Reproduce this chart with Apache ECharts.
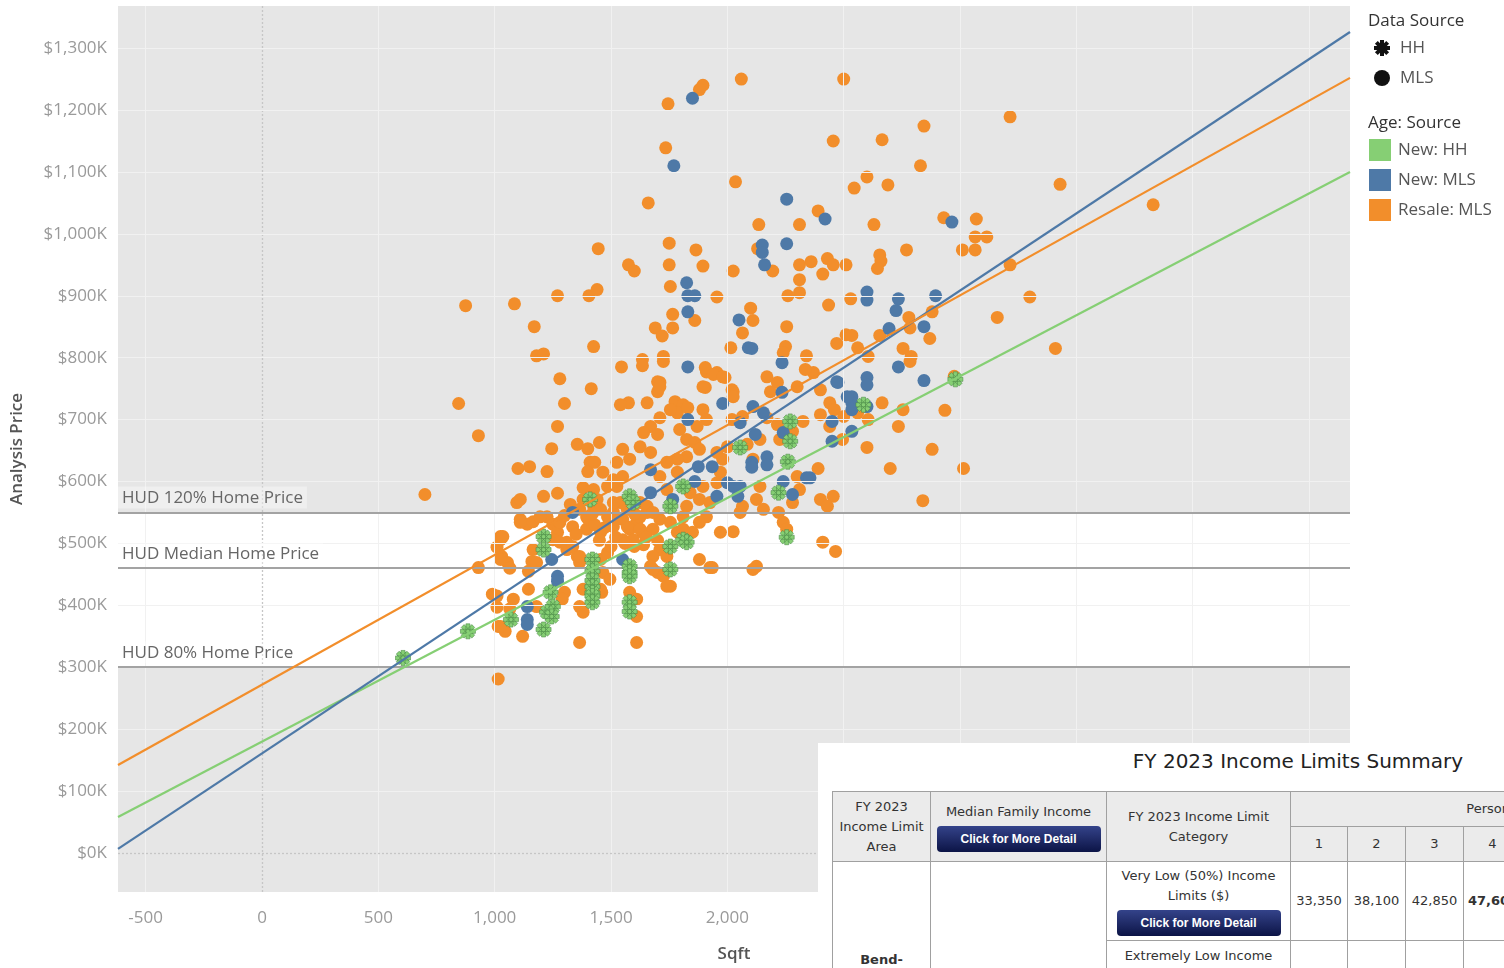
<!DOCTYPE html>
<html>
<head>
<meta charset="utf-8">
<script src="https://cdn.jsdelivr.net/npm/echarts@6/dist/echarts.min.js"></script>
<style>
html,body{margin:0;padding:0;width:1504px;height:968px;overflow:hidden;background:#fff;}
#chart{position:absolute;left:0;top:0;width:1504px;height:968px;}
#overlay{position:absolute;left:818px;top:743px;width:686px;height:225px;background:#fff;overflow:hidden;font-family:"DejaVu Sans",Verdana,sans-serif;color:#333;}
#title{position:absolute;left:0;top:5px;width:960px;text-align:center;font-size:20px;line-height:26px;color:#222;}
#tbl{position:absolute;left:14px;top:48px;border-collapse:collapse;table-layout:fixed;width:922px;font-size:13px;line-height:20px;}
#tbl th,#tbl td{border:1px solid #a0a0a0;text-align:center;vertical-align:middle;padding:0 4px;font-weight:normal;overflow:hidden;}
#tbl th{background:#ebebeb;}
#tbl tr.r1 th{height:34px;}
#tbl tr.b1 td{height:78px;}
#tbl tr.b2 td{height:78px;vertical-align:top;padding-top:5px;}
.btn{display:block;margin:4px auto 0;width:164px;height:26px;border-radius:4px;background:linear-gradient(#34438a,#0c1446);color:#fff;font:bold 12px "Liberation Sans",Arial,sans-serif;line-height:26px;}
#tbl td.area{vertical-align:top;padding-top:88px;}
</style>
</head>
<body>
<div id="chart"></div>
<div id="overlay">
  <div id="title">FY 2023 Income Limits Summary</div>
  <table id="tbl">
    <colgroup>
      <col style="width:98px"><col style="width:176px"><col style="width:184px">
      <col style="width:57px"><col style="width:58px"><col style="width:58px"><col style="width:58px">
      <col style="width:58px"><col style="width:58px"><col style="width:58px"><col style="width:59px">
    </colgroup>
    <tr class="r1">
      <th rowspan="2">FY 2023<br>Income Limit<br>Area</th>
      <th rowspan="2">Median Family Income<span class="btn">Click for More Detail</span></th>
      <th rowspan="2">FY 2023 Income Limit<br>Category</th>
      <th colspan="8">Persons in Family</th>
    </tr>
    <tr class="r1"><th>1</th><th>2</th><th>3</th><th>4</th><th>5</th><th>6</th><th>7</th><th>8</th></tr>
    <tr class="b1">
      <td rowspan="3" class="area"><b>Bend-<br>Redmond, OR<br>MSA</b></td>
      <td rowspan="3"></td>
      <td>Very Low (50%) Income<br>Limits ($)<span class="btn">Click for More Detail</span></td>
      <td>33,350</td><td>38,100</td><td>42,850</td><td><b>47,600</b></td><td></td><td></td><td></td><td></td>
    </tr>
    <tr class="b2">
      <td>Extremely Low Income<br>Limits ($)*</td>
      <td></td><td></td><td></td><td></td><td></td><td></td><td></td><td></td>
    </tr>
    <tr class="b2">
      <td>Low (80%) Income<br>Limits ($)</td>
      <td></td><td></td><td></td><td></td><td></td><td></td><td></td><td></td>
    </tr>
  </table>
</div>
<script>
// ---------- data (Sqft, Analysis Price in $K) ----------
const xTicks = [-500, 0, 500, 1000, 1500, 2000, 2500, 3000, 3500, 4000, 4500];
const yTicks = [0, 100, 200, 300, 400, 500, 600, 700, 800, 900, 1000, 1100, 1200, 1300];
const hudNames = ['HUD 120% Home Price', 'HUD Median Home Price', 'HUD 80% Home Price'];
const hudValues = [550, 460, 300];
const trendNames = ['New: HH', 'New: MLS', 'Resale: MLS'];
const trendSlopes = [0.1968, 0.2492, 0.2096];
const trendIntercepts = [179.8, 160.8, 271.8];

const resaleMLS = [
[1745,1210],[1895,1240],[1880,1233],[2060,1250],[1735,1139],[2035,1084],[1660,1050],[1750,985],[1865,974],[1445,976],
[1575,950],[1600,940],[1750,950],[1895,948],[2025,940],[1755,915],[1955,898],[875,884],[1085,887],[1270,900],
[1405,900],[1440,910],[1860,860],[1765,870],[1765,848],[1690,848],[1720,835],[1170,850],[1425,818],[1180,803],
[1210,806],[2065,840],[2015,816],[1725,802],[1635,797],
[2500,1250],[3215,1189],[2845,1174],[2455,1150],[2665,1152],[2830,1110],[2600,1092],[2545,1074],[2690,1079],[3430,1080],
[3830,1047],[2390,1037],[2135,1015],[2310,1015],[2630,1015],[2930,1026],[3070,1024],[3065,995],[3115,995],[3010,974],
[3065,974],[2770,974],[2130,976],[2195,940],[2310,950],[2360,955],[2430,960],[2455,950],[2510,950],[2410,935],
[2655,966],[2660,956],[2645,944],[2310,926],[2310,905],[2260,900],[2435,885],[2530,895],[3215,950],[3300,898],
[3160,865],[3410,815],[2880,874],[2780,865],[2785,848],[2870,831],[2755,815],[2790,802],[2100,880],[2110,860],
[2255,850],[2250,818],[2240,808],[2340,803],[2470,823],[2510,837],[2535,836],[2560,816],[2655,836],[2605,802],
[845,726],[930,674],[700,579],[1280,766],[1415,750],[1300,726],[1270,689],[1245,653],[1355,660],[1450,663],
[1400,653],[1410,631],[1400,616],[1430,631],[1100,621],[1150,624],[1225,616],[1095,566],[1210,576],[1270,581],
[1380,590],[1425,587],[1485,592],[1325,563],[1110,539],[1140,531],[1165,535],[1225,543],[1250,531],[1270,518],
[1025,511],[1010,494],[1030,479],[1055,469],[1065,460],[930,461],[1165,490],[1160,471],[1145,455],[1310,502],
[1355,479],[1365,469],[1465,453],[1460,421],[1380,426],[1365,398],[1380,389],[1300,421],[1290,410],[1145,426],
[1180,398],[1120,350],[1015,366],[1045,358],[990,418],[1010,397],[1365,340],[1015,281],[1065,394],[1080,410],
[1440,571],[1380,571],[1465,615],
[1545,785],[1635,787],[1725,794],[1910,777],[1955,776],[1990,768],[1710,760],[1700,745],[1905,752],[2025,745],
[2170,769],[2215,760],[2300,753],[2185,745],[1575,727],[1655,727],[1775,729],[1810,724],[1785,711],[1830,719],
[1755,716],[1710,703],[1670,689],[1700,676],[1640,679],[1895,716],[1910,700],[1870,689],[1795,684],[1825,668],
[1860,663],[1880,652],[2020,700],[2065,705],[2170,703],[2215,692],[2225,668],[2140,668],[2085,660],[2110,636],
[2000,656],[1955,647],[1980,636],[2325,697],[2280,681],[2300,608],[2310,587],[2280,566],[2220,550],[2240,534],
[2255,523],[2140,592],[2125,571],[2155,555],[2065,560],[2055,550],[1970,615],[1955,598],[1895,592],[1880,571],
[1925,566],[1910,543],[1880,534],[1840,582],[1825,560],[1810,543],[1740,587],[1710,608],[1785,615],[1825,640],
[1785,636],[1740,631],[1670,647],[1625,656],[1580,636],[1550,652],[1525,631],[1510,603],[1550,608],[1525,592],
[1540,566],[1510,550],[1550,539],[1625,566],[1655,550],[1610,534],[1580,523],[1635,518],[1680,523],[1710,539],
[1755,534],[1785,518],[1710,490],[1640,498],[1680,479],[1550,506],[1670,463],[1700,453],[1755,431],[1580,421],
[1880,474],[1925,461],[1970,518],[2025,519],[2110,458],[2125,463],
[2370,776],[2400,748],[2785,794],[2975,770],[2440,727],[2460,716],[2400,708],[2500,705],[2560,711],[2665,727],
[2755,716],[2735,689],[2935,715],[2605,700],[2495,668],[2600,655],[2880,652],[2390,621],[2700,621],[3015,621],
[2400,571],[2455,576],[2430,560],[2840,569],[2410,502],[2465,487],
[1025,506],[1035,511],[1025,474],[1010,415],[1025,366],[1110,534],[1195,543],[1280,534],[1110,571],[1250,506],
[1280,502],[1310,490],[1180,469],[1365,555],[1395,543],[1425,560],[1455,555],[1485,543],[1510,566],[1570,555],
[1595,566],[1625,543],[1655,560],[1680,550],[1335,527],[1395,523],[1455,518],[1510,527],[1570,527],[1625,523],
[1595,506],[1335,495],[1365,479],[1455,474],[1485,485],[1610,340],[1495,442],[1455,426],[1610,410],[1610,382],
[1680,458],[1725,447],[1740,431],[1810,523],[1850,518],[1755,495],[1740,479],[1935,461],
[1905,784],[1940,773],[1980,769],[1895,753],[1700,761],[1710,753],[1540,724],[2020,748],[2025,737],[2440,689],[2335,781],
[1400,540],[1430,530],[1470,525],[1350,515],[1300,545],[1520,510],[1560,500],[1600,495],[1650,510],[1700,505],
[1450,505],[1500,495],[1420,548],[1540,540],[1600,548]
];

const newMLS = [
[1850,1219],[1770,1110],[1825,921],[1830,900],[1860,900],[1830,874],[2050,861],[2090,816],
[2255,1056],[2420,1024],[2965,1019],[2150,982],[2150,970],[2160,950],[2255,984],[2600,906],[2600,893],[2735,895],
[2725,876],[2895,900],[2695,847],[2845,850],[2105,815],
[1335,550],[1245,474],[1270,447],[1270,439],[1140,398],[1140,377],[1140,369],[606,315],
[1830,785],[2235,744],[2235,792],[1980,726],[1830,700],[2110,721],[2155,711],[2055,695],[2120,676],[2240,679],
[2170,640],[2170,627],[2105,631],[2105,623],[1875,624],[1935,624],[1860,600],[2000,598],[2025,592],[2055,592],
[2045,576],[1955,576],[2240,600],[2280,579],[2340,606],[1670,619],[1670,582],[1765,571],[1550,474],
[2475,760],[2600,768],[2600,756],[2735,785],[2845,763],[2535,737],[2535,727],[2535,716],[2600,721],[2450,697],
[2535,681],[2450,665],[2355,606],[2470,761],[2515,737]
];

const newHH = [
[606,315],[885,358],[1070,377],[1210,511],[1210,490],[1210,361],[1240,421],[1250,398],[1225,389],[1245,382],
[1420,474],[1420,455],[1420,440],[1420,430],[1420,420],[1420,415],[1420,405],[1410,571],[1580,576],[1595,566],
[1580,463],[1580,453],[1580,447],[1580,405],[1580,390],[1755,458],[1755,560],[1810,592],[1755,495],[1810,506],
[1825,502],[2055,655],[2270,697],[2270,665],[2260,632],[2220,582],[2255,510],[2585,724],[2980,765]
];

// ---------- chart ----------
const X_MIN = -619, X_MAX = 4676, Y_MIN = -63, Y_MAX = 1368;
const C_GREEN = '#86cf74', C_BLUE = '#4e79a7', C_ORANGE = '#f28e2b';
const ASTERISK = 'M-10,-2.7L10,-2.7L10,2.7L-10,2.7Z M-2.7,-10L2.7,-10L2.7,10L-2.7,10Z M-5.16,-8.98L8.98,5.16L5.16,8.98L-8.98,-5.16Z M-8.98,5.16L5.16,-8.98L8.98,-5.16L-5.16,8.98Z';
const ARMS = [
  [[-10,-2.5],[10,-2.5],[10,2.5],[-10,2.5]],
  [[-2.5,-10],[2.5,-10],[2.5,10],[-2.5,10]],
  [[-5.3,-8.84],[8.84,5.3],[5.3,8.84],[-8.84,-5.3]],
  [[-8.84,5.3],[5.3,-8.84],[8.84,-5.3],[-5.3,8.84]]
];
const FONT = '"Open Sans", "Noto Sans", sans-serif';

const gridLineData = [];
xTicks.forEach(x => {
  const item = [{coord: [x, Y_MIN]}, {coord: [x, Y_MAX]}];
  if (x === 0) item[0].lineStyle = {color: '#c6c6c6', type: [2, 2], width: 1.3};
  gridLineData.push(item);
});
yTicks.forEach(y => {
  const item = [{coord: [X_MIN, y]}, {coord: [X_MAX, y]}];
  if (y === 0) item[0].lineStyle = {color: '#c6c6c6', type: [2, 2], width: 1.3};
  gridLineData.push(item);
});

const hudData = hudNames.map((n, i) => ({name: n, yAxis: hudValues[i]}));
const trendColors = [C_GREEN, C_BLUE, C_ORANGE];
const trendSeries = trendNames.map((n, i) => ({
  type: 'line', name: n + ' trend', z: 6, symbol: 'none', silent: true, clip: true,
  lineStyle: {color: trendColors[i], width: 2.2},
  data: [[X_MIN, trendIntercepts[i] + trendSlopes[i] * X_MIN], [X_MAX, trendIntercepts[i] + trendSlopes[i] * X_MAX]]
}));

const legendAsterisk = {
  type: 'group', x: 1382, y: 48, scaleX: 0.8, scaleY: 0.8,
  children: ARMS.map(p => ({type: 'polygon', shape: {points: p}, style: {fill: '#111'}}))
};

const LEG_FONT = '17px ' + FONT;
const chart = echarts.init(document.getElementById('chart'), null, {renderer: 'canvas'});
chart.setOption({
  animation: false,
  textStyle: {fontFamily: FONT},
  grid: {left: 118, right: 154, top: 6, bottom: 75, containLabel: false},
  xAxis: {
    type: 'value', min: X_MIN, max: X_MAX,
    axisLine: {show: false}, axisTick: {show: false}, splitLine: {show: false},
    axisLabel: {customValues: xTicks, color: '#9a9a9a', fontSize: 17, margin: 18, fontFamily: FONT,
      formatter: v => v.toLocaleString('en-US')},
    name: 'Sqft', nameLocation: 'middle', nameGap: 54,
    nameTextStyle: {color: '#555', fontSize: 17, fontWeight: 600, fontFamily: FONT}
  },
  yAxis: {
    type: 'value', min: Y_MIN, max: Y_MAX,
    axisLine: {show: false}, axisTick: {show: false}, splitLine: {show: false},
    axisLabel: {customValues: yTicks, color: '#9a9a9a', fontSize: 17, margin: 11, fontFamily: FONT,
      formatter: v => '$' + v.toLocaleString('en-US') + 'K'},
    name: 'Analysis Price', nameLocation: 'middle', nameGap: 92,
    nameTextStyle: {color: '#555', fontSize: 17, fontWeight: 600, fontFamily: FONT}
  },
  graphic: [
    {type: 'text', x: 1368, y: 21, style: {text: 'Data Source', fill: '#333', font: LEG_FONT, verticalAlign: 'middle'}},
    legendAsterisk,
    {type: 'text', x: 1400, y: 48, style: {text: 'HH', fill: '#555', font: LEG_FONT, verticalAlign: 'middle'}},
    {type: 'circle', shape: {cx: 1382, cy: 78, r: 8}, style: {fill: '#111'}},
    {type: 'text', x: 1400, y: 78, style: {text: 'MLS', fill: '#555', font: LEG_FONT, verticalAlign: 'middle'}},
    {type: 'text', x: 1368, y: 123, style: {text: 'Age: Source', fill: '#333', font: LEG_FONT, verticalAlign: 'middle'}},
    {type: 'rect', shape: {x: 1369, y: 139, width: 22, height: 22}, style: {fill: C_GREEN}},
    {type: 'text', x: 1398, y: 150, style: {text: 'New: HH', fill: '#555', font: LEG_FONT, verticalAlign: 'middle'}},
    {type: 'rect', shape: {x: 1369, y: 169, width: 22, height: 22}, style: {fill: C_BLUE}},
    {type: 'text', x: 1398, y: 180, style: {text: 'New: MLS', fill: '#555', font: LEG_FONT, verticalAlign: 'middle'}},
    {type: 'rect', shape: {x: 1369, y: 199, width: 22, height: 22}, style: {fill: C_ORANGE}},
    {type: 'text', x: 1398, y: 210, style: {text: 'Resale: MLS', fill: '#555', font: LEG_FONT, verticalAlign: 'middle'}}
  ],
  series: [
    {
      type: 'line', name: 'bands', data: [], z: 1, silent: true,
      markArea: {silent: true, itemStyle: {color: '#e6e6e6'},
        data: [
          [{coord: [X_MIN, Y_MIN]}, {coord: [X_MAX, hudValues[2]]}],
          [{coord: [X_MIN, hudValues[0]]}, {coord: [X_MAX, Y_MAX]}]
        ]}
    },
    {
      type: 'line', name: 'gridlines', data: [], z: 2, silent: true,
      markLine: {silent: true, symbol: ['none', 'none'], label: {show: false},
        lineStyle: {color: '#f1f1f1', width: 1, type: 'solid'}, emphasis: {disabled: true},
        data: gridLineData}
    },
    {
      type: 'line', name: 'hud', data: [], z: 3, silent: true,
      markLine: {silent: true, symbol: ['none', 'none'], emphasis: {disabled: true},
        lineStyle: {color: '#a3a3a3', width: 2, type: 'solid'},
        label: {show: true, formatter: '{b}', position: 'insideStartTop', distance: [0, 4],
          color: '#666', fontSize: 17, fontFamily: FONT,
          backgroundColor: 'rgba(255,255,255,0.35)', padding: [3, 4, 2, 4]},
        data: hudData}
    },
    {type: 'scatter', name: 'Resale: MLS', z: 4, symbol: 'circle', symbolSize: 13,
      itemStyle: {color: C_ORANGE, opacity: 1}, data: resaleMLS},
    {type: 'scatter', name: 'New: MLS', z: 4, symbol: 'circle', symbolSize: 13,
      itemStyle: {color: C_BLUE, opacity: 1}, data: newMLS},
    {type: 'scatter', name: 'New: HH', z: 5, symbol: 'path://' + ASTERISK, symbolSize: 15,
      itemStyle: {color: C_GREEN, opacity: 1, borderColor: '#4f8f4a', borderWidth: 0.6}, data: newHH}
  ].concat(trendSeries)
});
</script>
</body>
</html>
